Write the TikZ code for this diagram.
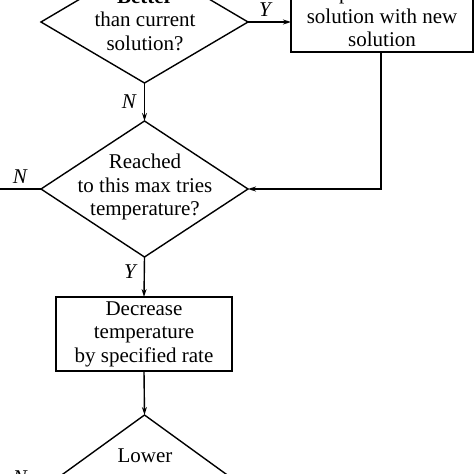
\documentclass[tikz,border=0pt]{standalone}
\usepackage{fontspec}
\setmainfont{Liberation Serif}
\usetikzlibrary{shapes.geometric,arrows.meta}
\begin{document}
\begin{tikzpicture}[x=1pt,y=-1pt,
  line width=1.4pt,
  every node/.style={font=\fontsize{21}{23.5}\selectfont},
  dia/.style={draw,diamond,inner sep=0pt,outer sep=0pt},
  procbox/.style={draw,rectangle,inner sep=0pt,outer sep=0pt},
  txt/.style={align=center,inner sep=0pt},
  lbl/.style={inner sep=0pt,font=\fontsize{21}{23.5}\selectfont\itshape},
  arr/.style={-{Stealth[length=8pt,width=5pt]}}]
\useasboundingbox (0,0) rectangle (474,474);
\clip (0,0) rectangle (474,474);
% shapes
\node[dia,minimum width=207pt,minimum height=122pt] (d1) at (144.5,22) {};
\node[txt] (t1) at (145,20) {\textbf{Better}\\than current\\solution?};
\node[procbox,minimum width=182pt,minimum height=72pt] (b1) at (382,16) {};
\node[txt] (tb1) at (382,16) {Replace current\\solution with new\\solution};
\node[dia,minimum width=207pt,minimum height=136pt] (d2) at (144.5,189) {};
\node[txt] (t2) at (145,187) {Reached\\to this max tries\\temperature?};
\node[procbox,minimum width=176pt,minimum height=74pt] (b2) at (144,334) {};
\node[txt] (tb2) at (144,334) {Decrease\\temperature\\by specified rate};
\node[dia,minimum width=207pt,minimum height=150pt] (d3) at (144.5,490) {};
\node[txt] (t3) at (145,479.5) {Lower\\temperature\\than final?};
\coordinate (l2) at (-5,189);
\coordinate (l3) at (-5,490);
% connectors
\draw[arr] (d1.east) -- (d1.east -| b1.west);
\draw[arr] (d1.south) -- (d2.north);
\draw[arr] (b1.south -| 381,0) |- (d2.east);
\draw (d2.west) -- (l2);
\draw[arr] (d2.south) -- (b2.north);
\draw[arr] (b2.south) -- (d3.north);
\draw (d3.west) -- (l3);
% labels
\node[lbl] (y1) at (265,10) {Y};
\node[lbl] (n1) at (129,102) {N};
\node[lbl] (n2) at (20,177) {N};
\node[lbl] (y2) at (130,272) {Y};
\node[lbl] (n3) at (20,478) {N};
\end{tikzpicture}
\end{document}
